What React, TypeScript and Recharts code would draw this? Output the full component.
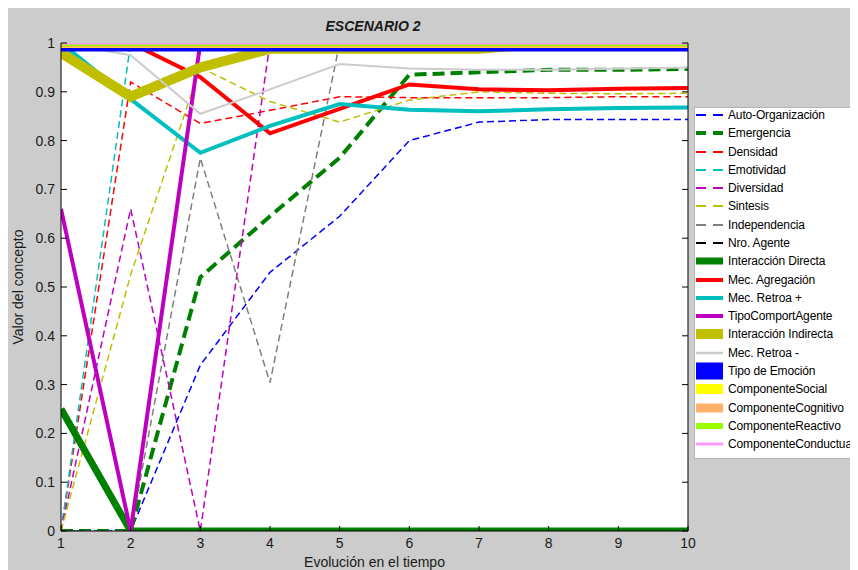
import React from 'react';
import { LineChart, Line, XAxis, YAxis, CartesianGrid, Legend, Label } from 'recharts';

const FONT = '"Liberation Sans", Arial, Helvetica, sans-serif';

// time steps and axis ticks
const STEPS = [1, 2, 3, 4, 5, 6, 7, 8, 9, 10];
const Y_TICKS = [0, 0.1, 0.2, 0.3, 0.4, 0.5, 0.6, 0.7, 0.8, 0.9, 1];

// concept values per step
const autoOrganizacion = [0, 0, 0.34, 0.53, 0.645, 0.8, 0.838, 0.843, 0.843, 0.843];
const emergencia = [0, 0, 0.52, 0.645, 0.765, 0.935, 0.94, 0.945, 0.945, 0.947];
const densidad = [0, 0.92, 0.835, 0.862, 0.89, 0.888, 0.888, 0.888, 0.89, 0.89];
const emotividad = [0, 1, 1, 1, 1, 1, 1, 1, 1, 1];
const diversidad = [0, 0.66, 0, 1, 1, 1, 1, 1, 1, 1];
const sintesis = [0, 0.525, 0.95, 0.88, 0.838, 0.883, 0.9, 0.897, 0.896, 0.897];
const independencia = [0, 0, 0.764, 0.304, 1, 1, 1, 1, 1, 1];
const nroAgente = [1, 1, 1, 1, 1, 1, 1, 1, 1, 1];
const interaccionDirecta = [0.25, 0, 0, 0, 0, 0, 0, 0, 0, 0];
const mecAgregacion = [1, 1, 0.93, 0.815, 0.865, 0.915, 0.905, 0.903, 0.906, 0.908];
const mecRetroaPos = [1, 0.885, 0.775, 0.83, 0.875, 0.863, 0.86, 0.864, 0.867, 0.868];
const tipoComportAgente = [0.66, 0, 1, 1, 1, 1, 1, 1, 1, 1];
const interaccionIndirecta = [0.98, 0.89, 0.95, 0.988, 0.988, 0.988, 0.988, 1, 1, 1];
const mecRetroaNeg = [1, 0.975, 0.855, 0.905, 0.957, 0.948, 0.945, 0.945, 0.947, 0.95];
const tipoEmocion = [1, 1, 1, 1, 1, 1, 1, 1, 1, 1];
const componenteSocial = [1, 1, 1, 1, 1, 1, 1, 1, 1, 1];
const componenteCognitivo = [1, 1, 1, 1, 1, 1, 1, 1, 1, 1];
const componenteReactivo = [1, 1, 1, 1, 1, 1, 1, 1, 1, 1];
const componenteConductual = [1, 1, 1, 1, 1, 1, 1, 1, 1, 1];

interface Serie {
  name: string;
  values: number[];
  color: string;
  width: number;
  dash?: string;
}

// drawing order = legend order (later ones on top)
const SERIES: Serie[] = [
  { name: 'Auto-Organización', values: autoOrganizacion, color: '#0000ff', width: 1.5, dash: '7 4' },
  { name: 'Emergencia', values: emergencia, color: '#008000', width: 4, dash: '12 6' },
  { name: 'Densidad', values: densidad, color: '#ff0000', width: 1.5, dash: '7 4' },
  { name: 'Emotividad', values: emotividad, color: '#00bfbf', width: 1.5, dash: '7 4' },
  { name: 'Diversidad', values: diversidad, color: '#bf00bf', width: 1.5, dash: '7 4' },
  { name: 'Sintesis', values: sintesis, color: '#bfbf00', width: 1.5, dash: '7 4' },
  { name: 'Independencia', values: independencia, color: '#7f7f7f', width: 1.5, dash: '7 4' },
  { name: 'Nro. Agente', values: nroAgente, color: '#000000', width: 1.5, dash: '7 4' },
  { name: 'Interacción Directa', values: interaccionDirecta, color: '#008000', width: 7 },
  { name: 'Mec. Agregación', values: mecAgregacion, color: '#ff0000', width: 4 },
  { name: 'Mec. Retroa +', values: mecRetroaPos, color: '#00bfbf', width: 4 },
  { name: 'TipoComportAgente', values: tipoComportAgente, color: '#bf00bf', width: 4 },
  { name: 'Interacción Indirecta', values: interaccionIndirecta, color: '#bfbf00', width: 10 },
  { name: 'Mec. Retroa -', values: mecRetroaNeg, color: '#cccccc', width: 2 },
  { name: 'Tipo de Emoción', values: tipoEmocion, color: '#0000ff', width: 17 },
  { name: 'ComponenteSocial', values: componenteSocial, color: '#ffff00', width: 10 },
  { name: 'ComponenteCognitivo', values: componenteCognitivo, color: '#ffb066', width: 9 },
  { name: 'ComponenteReactivo', values: componenteReactivo, color: '#99ff00', width: 6 },
  { name: 'ComponenteConductual', values: componenteConductual, color: '#ff99ff', width: 3 },
];

const data = STEPS.map((x, i) => {
  const row: Record<string, number> = { x };
  SERIES.forEach((s) => {
    row[s.name] = s.values[i];
  });
  return row;
});

function LegendSymbol({ s }: { s: Serie }) {
  if (s.dash) {
    const h = Math.max(2, s.width);
    return (
      <>
        <rect x={1} y={9 - h / 2} width={10} height={h} fill={s.color} />
        <rect x={18} y={9 - h / 2} width={10} height={h} fill={s.color} />
      </>
    );
  }
  const h = Math.max(2.5, s.width);
  return <rect x={1} y={9 - h / 2} width={27} height={h} fill={s.color} />;
}

function LegendBox() {
  return (
    <div
      style={{
        position: 'relative',
        width: 172,
        height: 350,
        background: '#fff',
        border: '1px solid #b4b4b4',
        fontFamily: FONT,
        fontSize: 12,
        letterSpacing: -0.15,
        color: '#000',
      }}
    >
      {SERIES.map((s, i) => (
        <div
          key={s.name}
          style={{ position: 'absolute', left: 0, top: -2 + i * 18.29, height: 18, width: '100%' }}
        >
          <svg width={30} height={18} style={{ position: 'absolute', left: 0, top: 0 }}>
            <LegendSymbol s={s} />
          </svg>
          <span
            style={{ position: 'absolute', left: 33, top: 0, lineHeight: '18px', whiteSpace: 'nowrap' }}
          >
            {s.name}
          </span>
        </div>
      ))}
    </div>
  );
}

export default function App() {
  return (
    <div
      style={{
        position: 'relative',
        width: 850,
        height: 562,
        background: '#cccccc',
        overflow: 'hidden',
      }}
    >
      <div
        style={{
          position: 'absolute',
          left: 0,
          top: 10,
          width: 730,
          textAlign: 'center',
          fontFamily: FONT,
          fontSize: 14,
          lineHeight: '16px',
          fontWeight: 'bold',
          fontStyle: 'italic',
          color: '#1a1a1a',
        }}
      >
        ESCENARIO 2
      </div>
      <LineChart
        width={850}
        height={562}
        data={data}
        margin={{ top: 35, right: 169, bottom: 0, left: 8 }}
      >
        <CartesianGrid fill="#ffffff" horizontal={false} vertical={false} />
        <XAxis
          dataKey="x"
          type="number"
          domain={[1, 10]}
          ticks={STEPS}
          height={39}
          allowDataOverflow
          axisLine={{ stroke: '#000' }}
          tickLine={{ stroke: '#000' }}
          tickSize={-5}
          tickMargin={12}
          tick={{ fill: '#1a1a1a', fontSize: 14, fontFamily: FONT }}
        >
          <Label
            value="Evolución en el tiempo"
            position="insideBottom"
            offset={3}
            style={{ fill: '#1a1a1a', fontSize: 14, fontFamily: FONT }}
          />
        </XAxis>
        <YAxis
          yAxisId="left"
          type="number"
          domain={[0, 1]}
          ticks={Y_TICKS}
          width={45}
          allowDataOverflow
          axisLine={{ stroke: '#000' }}
          tickLine={{ stroke: '#000' }}
          tickSize={-6}
          tickMargin={12}
          tickFormatter={(v: number) => String(v)}
          tick={{ fill: '#1a1a1a', fontSize: 14, fontFamily: FONT }}
        >
          <Label
            value="Valor del concepto"
            angle={-90}
            position="insideLeft"
            offset={2}
            style={{ fill: '#1a1a1a', fontSize: 14, fontFamily: FONT, textAnchor: 'middle' }}
          />
        </YAxis>
        <YAxis
          yAxisId="right"
          orientation="right"
          type="number"
          domain={[0, 1]}
          ticks={Y_TICKS}
          width={1}
          allowDataOverflow
          axisLine={{ stroke: '#000' }}
          tickLine={{ stroke: '#000' }}
          tickSize={-6}
          tickFormatter={() => ''}
        />
        <Legend
          layout="horizontal"
          verticalAlign="middle"
          align="center"
          content={() => <LegendBox />}
          wrapperStyle={{ left: 686, top: 99, width: 174, height: 352 }}
        />
        {SERIES.map((s) => (
          <Line
            key={s.name}
            yAxisId="left"
            type="linear"
            dataKey={s.name}
            stroke={s.color}
            strokeWidth={s.width}
            strokeDasharray={s.dash}
            dot={false}
            activeDot={false}
            isAnimationActive={false}
          />
        ))}
      </LineChart>
    </div>
  );
}
